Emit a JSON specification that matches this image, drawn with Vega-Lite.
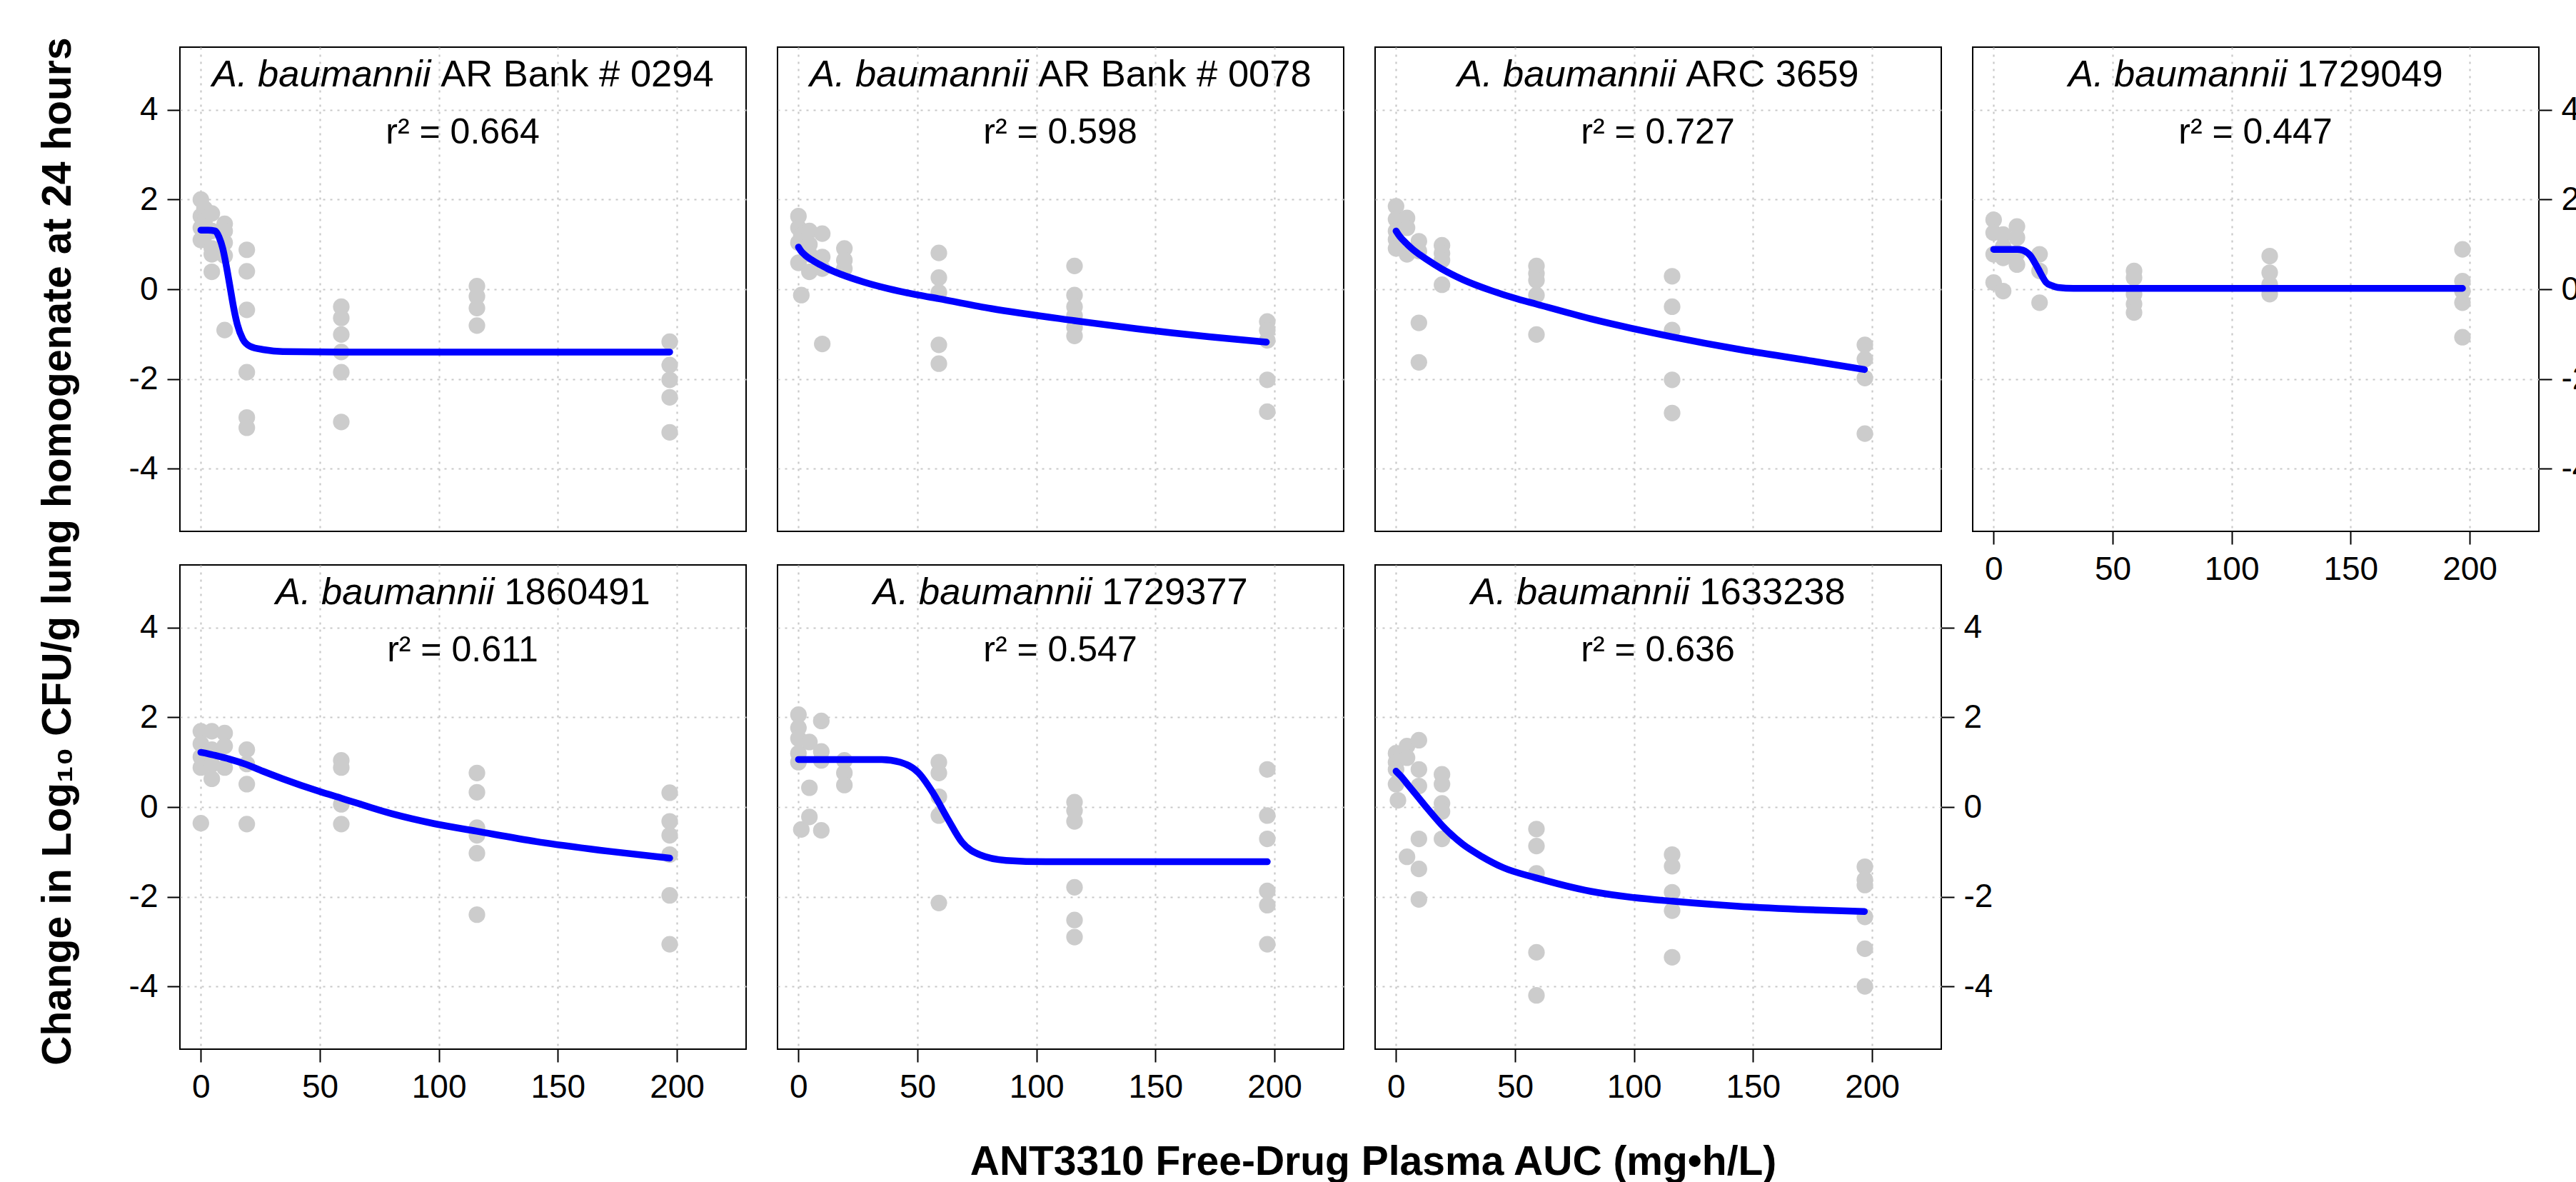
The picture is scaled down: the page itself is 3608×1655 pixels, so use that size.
{
  "$schema": "https://vega.github.io/schema/vega-lite/v6.json",
  "background": "white",
  "padding": {"left": 50, "top": 50, "right": 0, "bottom": 0},
  "config": {
    "font": "Liberation Sans",
    "view": {"stroke": "black", "strokeWidth": 2},
    "axis": {
      "gridColor": "#C8C8C8", "gridDash": [3, 7], "gridWidth": 2.2,
      "domain": false, "tickColor": "black", "tickWidth": 2, "tickSize": 18,
      "labelFont": "Liberation Sans", "labelFontSize": 46, "labelColor": "black",
      "labelPadding": 13, "labelOverlap": false, "labelFlush": false,
      "titleFont": "Liberation Sans", "titleFontSize": 57, "titleFontWeight": "bold", "titleColor": "black"
    },
    "text": {"font": "Liberation Sans", "color": "black"}
  },
  "datasets": {
    "labels": [
      {"strain": "0294", "species": "A. baumannii", "isolate": "AR Bank # 0294", "r2": "r² = 0.664"},
      {"strain": "0078", "species": "A. baumannii", "isolate": "AR Bank # 0078", "r2": "r² = 0.598"},
      {"strain": "3659", "species": "A. baumannii", "isolate": "ARC 3659", "r2": "r² = 0.727"},
      {"strain": "1729049", "species": "A. baumannii", "isolate": "1729049", "r2": "r² = 0.447"},
      {"strain": "1860491", "species": "A. baumannii", "isolate": "1860491", "r2": "r² = 0.611"},
      {"strain": "1729377", "species": "A. baumannii", "isolate": "1729377", "r2": "r² = 0.547"},
      {"strain": "1633238", "species": "A. baumannii", "isolate": "1633238", "r2": "r² = 0.636"}
    ],
    "points": [
      {"strain":"0294","auc":0,"lfc":2.0},{"strain":"0294","auc":0,"lfc":1.63},{"strain":"0294","auc":0,"lfc":1.37},{"strain":"0294","auc":0,"lfc":1.1},
      {"strain":"0294","auc":1.5,"lfc":1.8},{"strain":"0294","auc":1.5,"lfc":1.5},{"strain":"0294","auc":1.5,"lfc":1.2},
      {"strain":"0294","auc":4.6,"lfc":1.69},{"strain":"0294","auc":4.6,"lfc":1.3},{"strain":"0294","auc":4.6,"lfc":0.91},{"strain":"0294","auc":4.6,"lfc":0.78},{"strain":"0294","auc":4.6,"lfc":0.39},
      {"strain":"0294","auc":10,"lfc":1.46},{"strain":"0294","auc":10,"lfc":1.3},{"strain":"0294","auc":10,"lfc":1.04},{"strain":"0294","auc":10,"lfc":0.75},{"strain":"0294","auc":10,"lfc":-0.91},
      {"strain":"0294","auc":19.3,"lfc":0.88},{"strain":"0294","auc":19.3,"lfc":0.4},{"strain":"0294","auc":19.3,"lfc":-0.46},{"strain":"0294","auc":19.3,"lfc":-1.85},{"strain":"0294","auc":19.3,"lfc":-2.86},{"strain":"0294","auc":19.3,"lfc":-3.09},
      {"strain":"0294","auc":59,"lfc":-0.39},{"strain":"0294","auc":59,"lfc":-0.64},{"strain":"0294","auc":59,"lfc":-1.01},{"strain":"0294","auc":59,"lfc":-1.4},{"strain":"0294","auc":59,"lfc":-1.85},{"strain":"0294","auc":59,"lfc":-2.96},
      {"strain":"0294","auc":116,"lfc":0.07},{"strain":"0294","auc":116,"lfc":-0.16},{"strain":"0294","auc":116,"lfc":-0.42},{"strain":"0294","auc":116,"lfc":-0.81},
      {"strain":"0294","auc":197,"lfc":-1.17},{"strain":"0294","auc":197,"lfc":-1.69},{"strain":"0294","auc":197,"lfc":-2.02},{"strain":"0294","auc":197,"lfc":-2.41},{"strain":"0294","auc":197,"lfc":-3.19},

      {"strain":"0078","auc":0,"lfc":1.63},{"strain":"0078","auc":0,"lfc":1.37},{"strain":"0078","auc":0,"lfc":1.04},{"strain":"0078","auc":0,"lfc":0.59},{"strain":"0078","auc":1.2,"lfc":-0.13},{"strain":"0078","auc":1.2,"lfc":1.2},
      {"strain":"0078","auc":4.6,"lfc":1.3},{"strain":"0078","auc":4.6,"lfc":1.0},{"strain":"0078","auc":4.6,"lfc":0.78},{"strain":"0078","auc":4.6,"lfc":0.39},
      {"strain":"0078","auc":10,"lfc":1.24},{"strain":"0078","auc":10,"lfc":0.72},{"strain":"0078","auc":10,"lfc":0.46},{"strain":"0078","auc":10,"lfc":-1.22},
      {"strain":"0078","auc":19.3,"lfc":0.91},{"strain":"0078","auc":19.3,"lfc":0.65},{"strain":"0078","auc":19.3,"lfc":0.46},
      {"strain":"0078","auc":59,"lfc":0.81},{"strain":"0078","auc":59,"lfc":0.26},{"strain":"0078","auc":59,"lfc":-0.07},{"strain":"0078","auc":59,"lfc":-1.24},{"strain":"0078","auc":59,"lfc":-1.66},
      {"strain":"0078","auc":116,"lfc":0.52},{"strain":"0078","auc":116,"lfc":-0.13},{"strain":"0078","auc":116,"lfc":-0.39},{"strain":"0078","auc":116,"lfc":-0.59},{"strain":"0078","auc":116,"lfc":-0.85},{"strain":"0078","auc":116,"lfc":-1.04},
      {"strain":"0078","auc":197,"lfc":-0.72},{"strain":"0078","auc":197,"lfc":-0.91},{"strain":"0078","auc":197,"lfc":-1.14},{"strain":"0078","auc":197,"lfc":-2.02},{"strain":"0078","auc":197,"lfc":-2.73},

      {"strain":"3659","auc":0,"lfc":1.85},{"strain":"3659","auc":0,"lfc":1.56},{"strain":"3659","auc":0,"lfc":1.3},{"strain":"3659","auc":0,"lfc":1.11},{"strain":"3659","auc":0,"lfc":0.91},
      {"strain":"3659","auc":4.6,"lfc":1.59},{"strain":"3659","auc":4.6,"lfc":1.37},{"strain":"3659","auc":4.6,"lfc":0.78},
      {"strain":"3659","auc":9.6,"lfc":1.07},{"strain":"3659","auc":9.6,"lfc":0.85},{"strain":"3659","auc":9.6,"lfc":-0.75},{"strain":"3659","auc":9.6,"lfc":-1.63},
      {"strain":"3659","auc":19.3,"lfc":0.98},{"strain":"3659","auc":19.3,"lfc":0.8},{"strain":"3659","auc":19.3,"lfc":0.65},{"strain":"3659","auc":19.3,"lfc":0.1},
      {"strain":"3659","auc":59,"lfc":0.52},{"strain":"3659","auc":59,"lfc":0.35},{"strain":"3659","auc":59,"lfc":0.2},{"strain":"3659","auc":59,"lfc":-0.13},{"strain":"3659","auc":59,"lfc":-1.01},
      {"strain":"3659","auc":116,"lfc":0.29},{"strain":"3659","auc":116,"lfc":-0.39},{"strain":"3659","auc":116,"lfc":-0.91},{"strain":"3659","auc":116,"lfc":-2.02},{"strain":"3659","auc":116,"lfc":-2.76},
      {"strain":"3659","auc":197,"lfc":-1.24},{"strain":"3659","auc":197,"lfc":-1.56},{"strain":"3659","auc":197,"lfc":-1.98},{"strain":"3659","auc":197,"lfc":-3.22},

      {"strain":"1729049","auc":0,"lfc":1.55},{"strain":"1729049","auc":0,"lfc":1.26},{"strain":"1729049","auc":0,"lfc":0.78},{"strain":"1729049","auc":0,"lfc":0.15},
      {"strain":"1729049","auc":4,"lfc":1.22},{"strain":"1729049","auc":4,"lfc":0.95},{"strain":"1729049","auc":4,"lfc":0.7},{"strain":"1729049","auc":4,"lfc":-0.04},
      {"strain":"1729049","auc":9.8,"lfc":1.4},{"strain":"1729049","auc":9.8,"lfc":1.15},{"strain":"1729049","auc":9.8,"lfc":0.8},{"strain":"1729049","auc":9.8,"lfc":0.55},
      {"strain":"1729049","auc":19.3,"lfc":0.78},{"strain":"1729049","auc":19.3,"lfc":0.41},{"strain":"1729049","auc":19.3,"lfc":-0.3},
      {"strain":"1729049","auc":59,"lfc":0.41},{"strain":"1729049","auc":59,"lfc":0.26},{"strain":"1729049","auc":59,"lfc":-0.11},{"strain":"1729049","auc":59,"lfc":-0.33},{"strain":"1729049","auc":59,"lfc":-0.52},
      {"strain":"1729049","auc":116,"lfc":0.74},{"strain":"1729049","auc":116,"lfc":0.37},{"strain":"1729049","auc":116,"lfc":0.11},{"strain":"1729049","auc":116,"lfc":-0.11},
      {"strain":"1729049","auc":197,"lfc":0.89},{"strain":"1729049","auc":197,"lfc":0.18},{"strain":"1729049","auc":197,"lfc":-0.04},{"strain":"1729049","auc":197,"lfc":-0.3},{"strain":"1729049","auc":197,"lfc":-1.07},

      {"strain":"1860491","auc":0,"lfc":1.69},{"strain":"1860491","auc":0,"lfc":1.41},{"strain":"1860491","auc":0,"lfc":1.12},{"strain":"1860491","auc":0,"lfc":0.88},{"strain":"1860491","auc":0,"lfc":-0.36},
      {"strain":"1860491","auc":4.6,"lfc":1.69},{"strain":"1860491","auc":4.6,"lfc":1.28},{"strain":"1860491","auc":4.6,"lfc":0.95},{"strain":"1860491","auc":4.6,"lfc":0.63},
      {"strain":"1860491","auc":10,"lfc":1.65},{"strain":"1860491","auc":10,"lfc":1.36},{"strain":"1860491","auc":10,"lfc":0.88},
      {"strain":"1860491","auc":19.3,"lfc":1.28},{"strain":"1860491","auc":19.3,"lfc":0.96},{"strain":"1860491","auc":19.3,"lfc":0.51},{"strain":"1860491","auc":19.3,"lfc":-0.38},
      {"strain":"1860491","auc":59,"lfc":1.04},{"strain":"1860491","auc":59,"lfc":0.88},{"strain":"1860491","auc":59,"lfc":0.06},{"strain":"1860491","auc":59,"lfc":-0.38},
      {"strain":"1860491","auc":116,"lfc":0.76},{"strain":"1860491","auc":116,"lfc":0.33},{"strain":"1860491","auc":116,"lfc":-0.46},{"strain":"1860491","auc":116,"lfc":-0.63},{"strain":"1860491","auc":116,"lfc":-1.03},{"strain":"1860491","auc":116,"lfc":-2.4},
      {"strain":"1860491","auc":197,"lfc":0.32},{"strain":"1860491","auc":197,"lfc":-0.32},{"strain":"1860491","auc":197,"lfc":-0.63},{"strain":"1860491","auc":197,"lfc":-1.06},{"strain":"1860491","auc":197,"lfc":-1.97},{"strain":"1860491","auc":197,"lfc":-3.06},

      {"strain":"1729377","auc":0,"lfc":2.06},{"strain":"1729377","auc":0,"lfc":1.77},{"strain":"1729377","auc":0,"lfc":1.53},{"strain":"1729377","auc":0,"lfc":1.2},{"strain":"1729377","auc":0,"lfc":1.0},{"strain":"1729377","auc":1.2,"lfc":-0.5},
      {"strain":"1729377","auc":4.6,"lfc":1.45},{"strain":"1729377","auc":4.6,"lfc":0.43},{"strain":"1729377","auc":4.6,"lfc":-0.22},
      {"strain":"1729377","auc":9.6,"lfc":1.92},{"strain":"1729377","auc":9.6,"lfc":1.24},{"strain":"1729377","auc":9.6,"lfc":1.04},{"strain":"1729377","auc":9.6,"lfc":-0.52},
      {"strain":"1729377","auc":19.3,"lfc":1.04},{"strain":"1729377","auc":19.3,"lfc":0.76},{"strain":"1729377","auc":19.3,"lfc":0.49},
      {"strain":"1729377","auc":59,"lfc":1.0},{"strain":"1729377","auc":59,"lfc":0.76},{"strain":"1729377","auc":59,"lfc":0.23},{"strain":"1729377","auc":59,"lfc":-0.19},{"strain":"1729377","auc":59,"lfc":-2.14},
      {"strain":"1729377","auc":116,"lfc":0.11},{"strain":"1729377","auc":116,"lfc":-0.08},{"strain":"1729377","auc":116,"lfc":-0.32},{"strain":"1729377","auc":116,"lfc":-1.79},{"strain":"1729377","auc":116,"lfc":-2.52},{"strain":"1729377","auc":116,"lfc":-2.9},
      {"strain":"1729377","auc":197,"lfc":0.84},{"strain":"1729377","auc":197,"lfc":-0.19},{"strain":"1729377","auc":197,"lfc":-0.71},{"strain":"1729377","auc":197,"lfc":-1.87},{"strain":"1729377","auc":197,"lfc":-2.19},{"strain":"1729377","auc":197,"lfc":-3.06},

      {"strain":"1633238","auc":0,"lfc":1.2},{"strain":"1633238","auc":0,"lfc":1.0},{"strain":"1633238","auc":0,"lfc":0.84},{"strain":"1633238","auc":0,"lfc":0.51},{"strain":"1633238","auc":0.8,"lfc":0.15},
      {"strain":"1633238","auc":4.6,"lfc":1.36},{"strain":"1633238","auc":4.6,"lfc":1.1},{"strain":"1633238","auc":4.6,"lfc":-1.11},
      {"strain":"1633238","auc":9.6,"lfc":1.49},{"strain":"1633238","auc":9.6,"lfc":0.84},{"strain":"1633238","auc":9.6,"lfc":0.47},{"strain":"1633238","auc":9.6,"lfc":-0.71},{"strain":"1633238","auc":9.6,"lfc":-1.38},{"strain":"1633238","auc":9.6,"lfc":-2.06},
      {"strain":"1633238","auc":19.3,"lfc":0.73},{"strain":"1633238","auc":19.3,"lfc":0.51},{"strain":"1633238","auc":19.3,"lfc":0.08},{"strain":"1633238","auc":19.3,"lfc":-0.1},{"strain":"1633238","auc":19.3,"lfc":-0.71},
      {"strain":"1633238","auc":59,"lfc":-0.49},{"strain":"1633238","auc":59,"lfc":-0.87},{"strain":"1633238","auc":59,"lfc":-1.48},{"strain":"1633238","auc":59,"lfc":-3.24},{"strain":"1633238","auc":59,"lfc":-4.2},
      {"strain":"1633238","auc":116,"lfc":-1.06},{"strain":"1633238","auc":116,"lfc":-1.32},{"strain":"1633238","auc":116,"lfc":-1.9},{"strain":"1633238","auc":116,"lfc":-2.31},{"strain":"1633238","auc":116,"lfc":-3.35},
      {"strain":"1633238","auc":197,"lfc":-1.33},{"strain":"1633238","auc":197,"lfc":-1.62},{"strain":"1633238","auc":197,"lfc":-1.74},{"strain":"1633238","auc":197,"lfc":-2.45},{"strain":"1633238","auc":197,"lfc":-3.16},{"strain":"1633238","auc":197,"lfc":-4.0}
    ],
    "curves": [
      {"strain":"0294","auc":0,"lfc":1.32},{"strain":"0294","auc":3,"lfc":1.32},{"strain":"0294","auc":6,"lfc":1.3},{"strain":"0294","auc":7.6,"lfc":1.17},{"strain":"0294","auc":9.2,"lfc":0.91},{"strain":"0294","auc":10.7,"lfc":0.52},{"strain":"0294","auc":12.2,"lfc":0.07},{"strain":"0294","auc":13.7,"lfc":-0.39},{"strain":"0294","auc":15.3,"lfc":-0.78},{"strain":"0294","auc":17.6,"lfc":-1.11},{"strain":"0294","auc":20.6,"lfc":-1.27},{"strain":"0294","auc":26.7,"lfc":-1.35},{"strain":"0294","auc":34.4,"lfc":-1.39},{"strain":"0294","auc":58.8,"lfc":-1.4},{"strain":"0294","auc":197,"lfc":-1.4},
      {"strain":"0078","auc":0,"lfc":0.94},{"strain":"0078","auc":1,"lfc":0.86},{"strain":"0078","auc":2,"lfc":0.8},{"strain":"0078","auc":3,"lfc":0.75},{"strain":"0078","auc":6,"lfc":0.64},{"strain":"0078","auc":9,"lfc":0.55},{"strain":"0078","auc":12.2,"lfc":0.46},{"strain":"0078","auc":18,"lfc":0.33},{"strain":"0078","auc":27.5,"lfc":0.16},{"strain":"0078","auc":38,"lfc":0.01},{"strain":"0078","auc":50.4,"lfc":-0.13},{"strain":"0078","auc":58.8,"lfc":-0.21},{"strain":"0078","auc":80.9,"lfc":-0.43},{"strain":"0078","auc":116,"lfc":-0.7},{"strain":"0078","auc":142,"lfc":-0.88},{"strain":"0078","auc":172.5,"lfc":-1.06},{"strain":"0078","auc":196.6,"lfc":-1.18},
      {"strain":"3659","auc":0,"lfc":1.3},{"strain":"3659","auc":1,"lfc":1.22},{"strain":"3659","auc":2,"lfc":1.15},{"strain":"3659","auc":3.8,"lfc":1.05},{"strain":"3659","auc":7,"lfc":0.89},{"strain":"3659","auc":10,"lfc":0.77},{"strain":"3659","auc":13,"lfc":0.66},{"strain":"3659","auc":19,"lfc":0.46},{"strain":"3659","auc":28.3,"lfc":0.21},{"strain":"3659","auc":40,"lfc":-0.03},{"strain":"3659","auc":51.2,"lfc":-0.22},{"strain":"3659","auc":58.9,"lfc":-0.33},{"strain":"3659","auc":81.8,"lfc":-0.66},{"strain":"3659","auc":116,"lfc":-1.06},{"strain":"3659","auc":143,"lfc":-1.33},{"strain":"3659","auc":173.5,"lfc":-1.59},{"strain":"3659","auc":196.8,"lfc":-1.79},
      {"strain":"1729049","auc":0,"lfc":0.89},{"strain":"1729049","auc":10,"lfc":0.89},{"strain":"1729049","auc":12.3,"lfc":0.87},{"strain":"1729049","auc":14,"lfc":0.82},{"strain":"1729049","auc":15.6,"lfc":0.74},{"strain":"1729049","auc":17.2,"lfc":0.6},{"strain":"1729049","auc":18.9,"lfc":0.44},{"strain":"1729049","auc":20.5,"lfc":0.28},{"strain":"1729049","auc":22.1,"lfc":0.15},{"strain":"1729049","auc":24.5,"lfc":0.08},{"strain":"1729049","auc":27,"lfc":0.04},{"strain":"1729049","auc":33.6,"lfc":0.02},{"strain":"1729049","auc":197,"lfc":0.02},
      {"strain":"1860491","auc":0,"lfc":1.22},{"strain":"1860491","auc":3,"lfc":1.19},{"strain":"1860491","auc":6.9,"lfc":1.14},{"strain":"1860491","auc":12,"lfc":1.07},{"strain":"1860491","auc":19.1,"lfc":0.95},{"strain":"1860491","auc":26,"lfc":0.8},{"strain":"1860491","auc":34.4,"lfc":0.63},{"strain":"1860491","auc":49.7,"lfc":0.35},{"strain":"1860491","auc":58.9,"lfc":0.2},{"strain":"1860491","auc":80.3,"lfc":-0.15},{"strain":"1860491","auc":98,"lfc":-0.37},{"strain":"1860491","auc":116,"lfc":-0.54},{"strain":"1860491","auc":141,"lfc":-0.77},{"strain":"1860491","auc":172,"lfc":-0.99},{"strain":"1860491","auc":197,"lfc":-1.14},
      {"strain":"1729377","auc":0,"lfc":1.06},{"strain":"1729377","auc":35,"lfc":1.06},{"strain":"1729377","auc":42.8,"lfc":1.0},{"strain":"1729377","auc":50.5,"lfc":0.76},{"strain":"1729377","auc":56.6,"lfc":0.31},{"strain":"1729377","auc":62.7,"lfc":-0.26},{"strain":"1729377","auc":68.8,"lfc":-0.79},{"strain":"1729377","auc":76.5,"lfc":-1.07},{"strain":"1729377","auc":87.2,"lfc":-1.19},{"strain":"1729377","auc":104,"lfc":-1.22},{"strain":"1729377","auc":197,"lfc":-1.22},
      {"strain":"1633238","auc":0,"lfc":0.8},{"strain":"1633238","auc":2,"lfc":0.69},{"strain":"1633238","auc":5.4,"lfc":0.47},{"strain":"1633238","auc":9,"lfc":0.24},{"strain":"1633238","auc":13,"lfc":-0.02},{"strain":"1633238","auc":20.6,"lfc":-0.48},{"strain":"1633238","auc":28,"lfc":-0.83},{"strain":"1633238","auc":35.9,"lfc":-1.1},{"strain":"1633238","auc":45,"lfc":-1.35},{"strain":"1633238","auc":58.9,"lfc":-1.58},{"strain":"1633238","auc":81.8,"lfc":-1.88},{"strain":"1633238","auc":100,"lfc":-2.02},{"strain":"1633238","auc":116,"lfc":-2.1},{"strain":"1633238","auc":143,"lfc":-2.21},{"strain":"1633238","auc":173.5,"lfc":-2.29},{"strain":"1633238","auc":196.8,"lfc":-2.33}
    ]
  },
  "columns": 4,
  "bounds": "flush",
  "spacing": {"row": 47, "column": 44},
  "concat": [
    {
      "width": 793, "height": 678,
      "layer": [
        {"data": {"name": "points"}, "transform": [{"filter": "datum.strain === '0294'"}], "mark": {"type": "circle", "size": 540, "color": "#CCCCCC", "opacity": 1},
         "encoding": {
          "x": {"field": "auc", "type": "quantitative", "scale": {"domain": [-8.8, 229.1], "nice": false, "zero": false}, "axis": {"values": [0, 50, 100, 150, 200], "labels": false, "ticks": false, "title": null, "grid": true}},
          "y": {"field": "lfc", "type": "quantitative", "scale": {"domain": [-5.4, 5.4], "nice": false, "zero": false}, "axis": {"orient": "left", "values": [-4, -2, 0, 2, 4], "grid": true, "labelExpr": "'' + datum.value", "title": "Change in Log₁₀ CFU/g lung homogenate at 24 hours", "titleX": -154, "titleY": 705.5, "titleAngle": 270, "titleAlign": "center", "titleBaseline": "alphabetic"}}}},
        {"data": {"name": "curves"}, "transform": [{"filter": "datum.strain === '0294'"}], "mark": {"type": "line", "color": "#0000FF", "strokeWidth": 9.5, "strokeCap": "round", "strokeJoin": "round", "interpolate": "monotone"},
         "encoding": {"x": {"field": "auc", "type": "quantitative"}, "y": {"field": "lfc", "type": "quantitative"}}},
        {"data": {"name": "labels"}, "transform": [{"filter": "datum.strain === '0294'"}], "mark": {"type": "text", "fontSize": 52.5, "fontStyle": "italic", "align": "right", "baseline": "alphabetic", "dx": -7}, "encoding": {"x": {"datum": 98.7, "type": "quantitative"}, "y": {"datum": 4.52, "type": "quantitative"}, "text": {"field": "species"}}},
        {"data": {"name": "labels"}, "transform": [{"filter": "datum.strain === '0294'"}], "mark": {"type": "text", "fontSize": 52.5, "align": "left", "baseline": "alphabetic", "dx": 7}, "encoding": {"x": {"datum": 98.7, "type": "quantitative"}, "y": {"datum": 4.52, "type": "quantitative"}, "text": {"field": "isolate"}}},
        {"data": {"name": "labels"}, "transform": [{"filter": "datum.strain === '0294'"}], "mark": {"type": "text", "fontSize": 50, "align": "center", "baseline": "alphabetic"}, "encoding": {"x": {"datum": 110, "type": "quantitative"}, "y": {"datum": 3.25, "type": "quantitative"}, "text": {"field": "r2"}}}
      ]
    },
    {
      "width": 793, "height": 678,
      "layer": [
        {"data": {"name": "points"}, "transform": [{"filter": "datum.strain === '0078'"}], "mark": {"type": "circle", "size": 540, "color": "#CCCCCC", "opacity": 1},
         "encoding": {
          "x": {"field": "auc", "type": "quantitative", "scale": {"domain": [-8.8, 229.1], "nice": false, "zero": false}, "axis": {"values": [0, 50, 100, 150, 200], "labels": false, "ticks": false, "title": null, "grid": true}},
          "y": {"field": "lfc", "type": "quantitative", "scale": {"domain": [-5.4, 5.4], "nice": false, "zero": false}, "axis": {"values": [-4, -2, 0, 2, 4], "labels": false, "ticks": false, "title": null, "grid": true}}}},
        {"data": {"name": "curves"}, "transform": [{"filter": "datum.strain === '0078'"}], "mark": {"type": "line", "color": "#0000FF", "strokeWidth": 9.5, "strokeCap": "round", "strokeJoin": "round", "interpolate": "monotone"},
         "encoding": {"x": {"field": "auc", "type": "quantitative"}, "y": {"field": "lfc", "type": "quantitative"}}},
        {"data": {"name": "labels"}, "transform": [{"filter": "datum.strain === '0078'"}], "mark": {"type": "text", "fontSize": 52.5, "fontStyle": "italic", "align": "right", "baseline": "alphabetic", "dx": -7}, "encoding": {"x": {"datum": 98.7, "type": "quantitative"}, "y": {"datum": 4.52, "type": "quantitative"}, "text": {"field": "species"}}},
        {"data": {"name": "labels"}, "transform": [{"filter": "datum.strain === '0078'"}], "mark": {"type": "text", "fontSize": 52.5, "align": "left", "baseline": "alphabetic", "dx": 7}, "encoding": {"x": {"datum": 98.7, "type": "quantitative"}, "y": {"datum": 4.52, "type": "quantitative"}, "text": {"field": "isolate"}}},
        {"data": {"name": "labels"}, "transform": [{"filter": "datum.strain === '0078'"}], "mark": {"type": "text", "fontSize": 50, "align": "center", "baseline": "alphabetic"}, "encoding": {"x": {"datum": 110, "type": "quantitative"}, "y": {"datum": 3.25, "type": "quantitative"}, "text": {"field": "r2"}}}
      ]
    },
    {
      "width": 793, "height": 678,
      "layer": [
        {"data": {"name": "points"}, "transform": [{"filter": "datum.strain === '3659'"}], "mark": {"type": "circle", "size": 540, "color": "#CCCCCC", "opacity": 1},
         "encoding": {
          "x": {"field": "auc", "type": "quantitative", "scale": {"domain": [-8.8, 229.1], "nice": false, "zero": false}, "axis": {"values": [0, 50, 100, 150, 200], "labels": false, "ticks": false, "title": null, "grid": true}},
          "y": {"field": "lfc", "type": "quantitative", "scale": {"domain": [-5.4, 5.4], "nice": false, "zero": false}, "axis": {"values": [-4, -2, 0, 2, 4], "labels": false, "ticks": false, "title": null, "grid": true}}}},
        {"data": {"name": "curves"}, "transform": [{"filter": "datum.strain === '3659'"}], "mark": {"type": "line", "color": "#0000FF", "strokeWidth": 9.5, "strokeCap": "round", "strokeJoin": "round", "interpolate": "monotone"},
         "encoding": {"x": {"field": "auc", "type": "quantitative"}, "y": {"field": "lfc", "type": "quantitative"}}},
        {"data": {"name": "labels"}, "transform": [{"filter": "datum.strain === '3659'"}], "mark": {"type": "text", "fontSize": 52.5, "fontStyle": "italic", "align": "right", "baseline": "alphabetic", "dx": -7}, "encoding": {"x": {"datum": 119.7, "type": "quantitative"}, "y": {"datum": 4.52, "type": "quantitative"}, "text": {"field": "species"}}},
        {"data": {"name": "labels"}, "transform": [{"filter": "datum.strain === '3659'"}], "mark": {"type": "text", "fontSize": 52.5, "align": "left", "baseline": "alphabetic", "dx": 7}, "encoding": {"x": {"datum": 119.7, "type": "quantitative"}, "y": {"datum": 4.52, "type": "quantitative"}, "text": {"field": "isolate"}}},
        {"data": {"name": "labels"}, "transform": [{"filter": "datum.strain === '3659'"}], "mark": {"type": "text", "fontSize": 50, "align": "center", "baseline": "alphabetic"}, "encoding": {"x": {"datum": 110, "type": "quantitative"}, "y": {"datum": 3.25, "type": "quantitative"}, "text": {"field": "r2"}}}
      ]
    },
    {
      "width": 793, "height": 678,
      "layer": [
        {"data": {"name": "points"}, "transform": [{"filter": "datum.strain === '1729049'"}], "mark": {"type": "circle", "size": 540, "color": "#CCCCCC", "opacity": 1},
         "encoding": {
          "x": {"field": "auc", "type": "quantitative", "scale": {"domain": [-8.8, 229.1], "nice": false, "zero": false}, "axis": {"values": [0, 50, 100, 150, 200], "title": null, "grid": true}},
          "y": {"field": "lfc", "type": "quantitative", "scale": {"domain": [-5.4, 5.4], "nice": false, "zero": false}, "axis": {"orient": "right", "values": [-4, -2, 0, 2, 4], "grid": true, "labelExpr": "'' + datum.value", "title": null}}}},
        {"data": {"name": "curves"}, "transform": [{"filter": "datum.strain === '1729049'"}], "mark": {"type": "line", "color": "#0000FF", "strokeWidth": 9.5, "strokeCap": "round", "strokeJoin": "round", "interpolate": "monotone"},
         "encoding": {"x": {"field": "auc", "type": "quantitative"}, "y": {"field": "lfc", "type": "quantitative"}}},
        {"data": {"name": "labels"}, "transform": [{"filter": "datum.strain === '1729049'"}], "mark": {"type": "text", "fontSize": 52.5, "fontStyle": "italic", "align": "right", "baseline": "alphabetic", "dx": -7}, "encoding": {"x": {"datum": 125.4, "type": "quantitative"}, "y": {"datum": 4.52, "type": "quantitative"}, "text": {"field": "species"}}},
        {"data": {"name": "labels"}, "transform": [{"filter": "datum.strain === '1729049'"}], "mark": {"type": "text", "fontSize": 52.5, "align": "left", "baseline": "alphabetic", "dx": 7}, "encoding": {"x": {"datum": 125.4, "type": "quantitative"}, "y": {"datum": 4.52, "type": "quantitative"}, "text": {"field": "isolate"}}},
        {"data": {"name": "labels"}, "transform": [{"filter": "datum.strain === '1729049'"}], "mark": {"type": "text", "fontSize": 50, "align": "center", "baseline": "alphabetic"}, "encoding": {"x": {"datum": 110, "type": "quantitative"}, "y": {"datum": 3.25, "type": "quantitative"}, "text": {"field": "r2"}}}
      ]
    },
    {
      "width": 793, "height": 678,
      "layer": [
        {"data": {"name": "points"}, "transform": [{"filter": "datum.strain === '1860491'"}], "mark": {"type": "circle", "size": 540, "color": "#CCCCCC", "opacity": 1},
         "encoding": {
          "x": {"field": "auc", "type": "quantitative", "scale": {"domain": [-8.8, 229.1], "nice": false, "zero": false}, "axis": {"values": [0, 50, 100, 150, 200], "title": null, "grid": true}},
          "y": {"field": "lfc", "type": "quantitative", "scale": {"domain": [-5.4, 5.4], "nice": false, "zero": false}, "axis": {"orient": "left", "values": [-4, -2, 0, 2, 4], "grid": true, "labelExpr": "'' + datum.value", "title": null}}}},
        {"data": {"name": "curves"}, "transform": [{"filter": "datum.strain === '1860491'"}], "mark": {"type": "line", "color": "#0000FF", "strokeWidth": 9.5, "strokeCap": "round", "strokeJoin": "round", "interpolate": "monotone"},
         "encoding": {"x": {"field": "auc", "type": "quantitative"}, "y": {"field": "lfc", "type": "quantitative"}}},
        {"data": {"name": "labels"}, "transform": [{"filter": "datum.strain === '1860491'"}], "mark": {"type": "text", "fontSize": 52.5, "fontStyle": "italic", "align": "right", "baseline": "alphabetic", "dx": -7}, "encoding": {"x": {"datum": 125.4, "type": "quantitative"}, "y": {"datum": 4.52, "type": "quantitative"}, "text": {"field": "species"}}},
        {"data": {"name": "labels"}, "transform": [{"filter": "datum.strain === '1860491'"}], "mark": {"type": "text", "fontSize": 52.5, "align": "left", "baseline": "alphabetic", "dx": 7}, "encoding": {"x": {"datum": 125.4, "type": "quantitative"}, "y": {"datum": 4.52, "type": "quantitative"}, "text": {"field": "isolate"}}},
        {"data": {"name": "labels"}, "transform": [{"filter": "datum.strain === '1860491'"}], "mark": {"type": "text", "fontSize": 50, "align": "center", "baseline": "alphabetic"}, "encoding": {"x": {"datum": 110, "type": "quantitative"}, "y": {"datum": 3.25, "type": "quantitative"}, "text": {"field": "r2"}}}
      ]
    },
    {
      "width": 793, "height": 678,
      "layer": [
        {"data": {"name": "points"}, "transform": [{"filter": "datum.strain === '1729377'"}], "mark": {"type": "circle", "size": 540, "color": "#CCCCCC", "opacity": 1},
         "encoding": {
          "x": {"field": "auc", "type": "quantitative", "scale": {"domain": [-8.8, 229.1], "nice": false, "zero": false}, "axis": {"values": [0, 50, 100, 150, 200], "grid": true, "title": "ANT3310 Free-Drug Plasma AUC (mg•h/L)", "titleX": 834, "titleY": 175, "titleAngle": 0, "titleAlign": "center", "titleBaseline": "alphabetic"}},
          "y": {"field": "lfc", "type": "quantitative", "scale": {"domain": [-5.4, 5.4], "nice": false, "zero": false}, "axis": {"values": [-4, -2, 0, 2, 4], "labels": false, "ticks": false, "title": null, "grid": true}}}},
        {"data": {"name": "curves"}, "transform": [{"filter": "datum.strain === '1729377'"}], "mark": {"type": "line", "color": "#0000FF", "strokeWidth": 9.5, "strokeCap": "round", "strokeJoin": "round", "interpolate": "monotone"},
         "encoding": {"x": {"field": "auc", "type": "quantitative"}, "y": {"field": "lfc", "type": "quantitative"}}},
        {"data": {"name": "labels"}, "transform": [{"filter": "datum.strain === '1729377'"}], "mark": {"type": "text", "fontSize": 52.5, "fontStyle": "italic", "align": "right", "baseline": "alphabetic", "dx": -7}, "encoding": {"x": {"datum": 125.4, "type": "quantitative"}, "y": {"datum": 4.52, "type": "quantitative"}, "text": {"field": "species"}}},
        {"data": {"name": "labels"}, "transform": [{"filter": "datum.strain === '1729377'"}], "mark": {"type": "text", "fontSize": 52.5, "align": "left", "baseline": "alphabetic", "dx": 7}, "encoding": {"x": {"datum": 125.4, "type": "quantitative"}, "y": {"datum": 4.52, "type": "quantitative"}, "text": {"field": "isolate"}}},
        {"data": {"name": "labels"}, "transform": [{"filter": "datum.strain === '1729377'"}], "mark": {"type": "text", "fontSize": 50, "align": "center", "baseline": "alphabetic"}, "encoding": {"x": {"datum": 110, "type": "quantitative"}, "y": {"datum": 3.25, "type": "quantitative"}, "text": {"field": "r2"}}}
      ]
    },
    {
      "width": 793, "height": 678,
      "layer": [
        {"data": {"name": "points"}, "transform": [{"filter": "datum.strain === '1633238'"}], "mark": {"type": "circle", "size": 540, "color": "#CCCCCC", "opacity": 1},
         "encoding": {
          "x": {"field": "auc", "type": "quantitative", "scale": {"domain": [-8.8, 229.1], "nice": false, "zero": false}, "axis": {"values": [0, 50, 100, 150, 200], "title": null, "grid": true}},
          "y": {"field": "lfc", "type": "quantitative", "scale": {"domain": [-5.4, 5.4], "nice": false, "zero": false}, "axis": {"orient": "right", "values": [-4, -2, 0, 2, 4], "grid": true, "labelExpr": "'' + datum.value", "title": null}}}},
        {"data": {"name": "curves"}, "transform": [{"filter": "datum.strain === '1633238'"}], "mark": {"type": "line", "color": "#0000FF", "strokeWidth": 9.5, "strokeCap": "round", "strokeJoin": "round", "interpolate": "monotone"},
         "encoding": {"x": {"field": "auc", "type": "quantitative"}, "y": {"field": "lfc", "type": "quantitative"}}},
        {"data": {"name": "labels"}, "transform": [{"filter": "datum.strain === '1633238'"}], "mark": {"type": "text", "fontSize": 52.5, "fontStyle": "italic", "align": "right", "baseline": "alphabetic", "dx": -7}, "encoding": {"x": {"datum": 125.4, "type": "quantitative"}, "y": {"datum": 4.52, "type": "quantitative"}, "text": {"field": "species"}}},
        {"data": {"name": "labels"}, "transform": [{"filter": "datum.strain === '1633238'"}], "mark": {"type": "text", "fontSize": 52.5, "align": "left", "baseline": "alphabetic", "dx": 7}, "encoding": {"x": {"datum": 125.4, "type": "quantitative"}, "y": {"datum": 4.52, "type": "quantitative"}, "text": {"field": "isolate"}}},
        {"data": {"name": "labels"}, "transform": [{"filter": "datum.strain === '1633238'"}], "mark": {"type": "text", "fontSize": 50, "align": "center", "baseline": "alphabetic"}, "encoding": {"x": {"datum": 110, "type": "quantitative"}, "y": {"datum": 3.25, "type": "quantitative"}, "text": {"field": "r2"}}}
      ]
    }
  ]
}
